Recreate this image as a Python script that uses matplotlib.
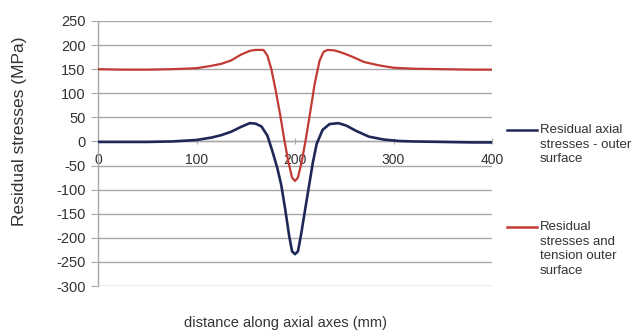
import matplotlib
matplotlib.use("Agg")
import matplotlib.pyplot as plt

plt.rcParams['font.family'] = ['Liberation Sans', 'DejaVu Sans']

# distance along axial axes (mm)
x_axial = [0, 25, 50, 75, 100, 115, 125, 135, 145, 154, 160, 166, 172, 177, 182, 186,
           190, 194, 197, 200, 203, 206, 210, 214, 218, 222, 228, 235, 244, 252,
           262, 275, 290, 305, 320, 350, 380, 400]
axial = [-1, -1, -1, 0, 3, 8, 13, 20, 30, 38, 37, 31, 12, -20, -55, -90,
         -140, -195, -228, -234, -228, -195, -145, -95, -45, -5, 24, 36, 38, 33,
         22, 10, 4, 1, 0, -1, -2, -2]

x_tension = [0, 25, 50, 75, 100, 115, 125, 135, 145, 154, 160, 168, 172, 176, 180, 185,
             189, 193, 197, 200, 203, 207, 211, 215, 220, 225, 229, 233, 240, 248,
             258, 270, 285, 300, 320, 350, 380, 400]
tension = [150, 149, 149, 150, 152, 157, 161, 168, 180, 188, 190, 190, 178, 150, 110, 55,
           5, -40, -75, -82, -75, -40, 5, 55, 120, 168, 186, 190, 189, 184,
           176, 165, 158, 153, 151, 150, 149, 149]

series_labels = ["Residual axial\nstresses - outer\nsurface",
                 "Residual\nstresses and\ntension outer\nsurface"]
x_ticks = [0, 100, 200, 300, 400]
y_ticks = list(range(-300, 251, 50))

blue = '#1e2856'
red = '#c23a34'
grid_c = '#a8a8a8'

fig = plt.figure(figsize=(6.44, 3.34), dpi=100)
ax = fig.add_axes([98/644, 1-286/334, (492-98)/644, (286-21)/334])

for yt in y_ticks:
    ax.axhline(yt, color=grid_c, lw=1.0, zorder=1)

ax.plot(x_axial, axial, color=blue, lw=1.9, zorder=3)
ax.plot(x_tension, tension, color=red, lw=1.6, zorder=3)

ax.set_xlim(0, 400)
ax.set_ylim(-300, 250)
ax.set_yticks(y_ticks)
ax.set_yticklabels([str(v) for v in y_ticks])
ax.set_xticks(x_ticks)
ax.set_xticklabels([str(v) for v in x_ticks])

for s in ['top', 'right']:
    ax.spines[s].set_visible(False)
ax.spines['left'].set_color(grid_c)
ax.spines['left'].set_linewidth(1.0)
ax.spines['bottom'].set_position(('data', 0))
ax.spines['bottom'].set_color(grid_c)
ax.spines['bottom'].set_linewidth(1.0)

ax.tick_params(axis='y', length=5, color=grid_c, labelsize=10.5, labelcolor='#333333', pad=4)
ax.tick_params(axis='x', length=4, direction='inout', color=grid_c, labelsize=10,
               labelcolor='#333333', pad=6)

fig.text(20/644, 1-131/334, 'Residual stresses (MPa)', rotation=90, ha='center', va='center',
         fontsize=12.5, color='#333333')
fig.text(286/644, 1-323/334, 'distance along axial axes (mm)', ha='center', va='center',
         fontsize=10.5, color='#333333')

# legend
for (yl, col, lab) in [(130, blue, series_labels[0]), (227, red, series_labels[1])]:
    fig.add_artist(plt.Line2D([507/644, 537/644], [1-yl/334, 1-yl/334], color=col, lw=1.8))
    fig.text(540/644, 1-(yl-6)/334, lab, ha='left', va='top', fontsize=9.5, color='#333333',
             linespacing=1.3)

fig.savefig('out.png', dpi=100)
